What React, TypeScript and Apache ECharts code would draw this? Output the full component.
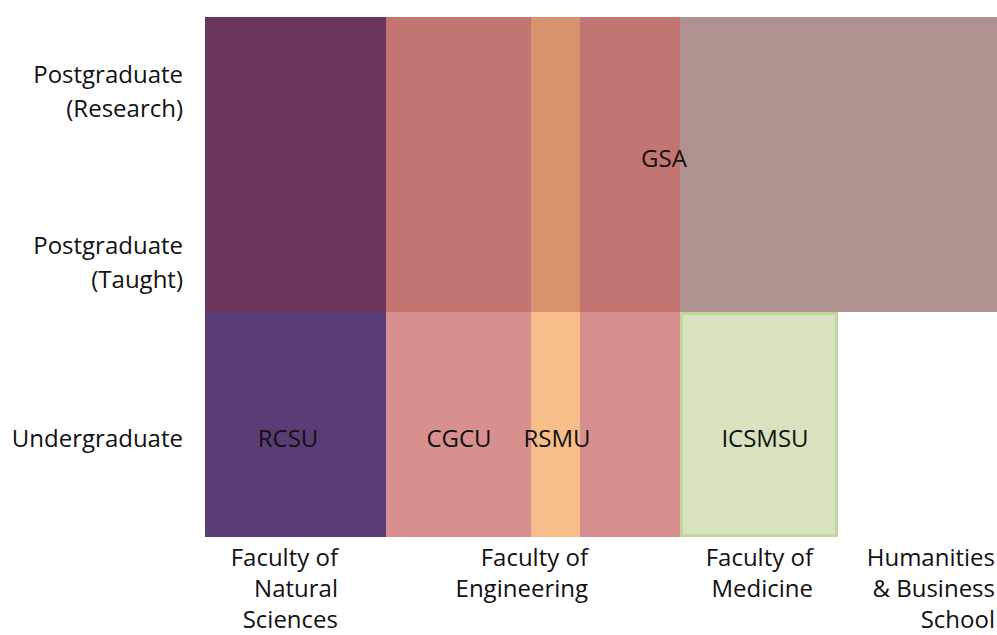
import React, { useEffect, useRef } from "react";
import * as echarts from "echarts";

// Axis labels (diagram units: x 0..792 across the faculties, y 0..520 bottom to top)
const facultyLabels = [
  "Faculty of\nNatural\nSciences",
  "Faculty of\nEngineering",
  "Faculty of\nMedicine",
  "Humanities\n& Business\nSchool",
];
const facultyLabelAt = [133, 383, 608, 790];

const levelLabels = ["Undergraduate", "Postgraduate\n(Taught)", "Postgraduate\n(Research)"];
const levelLabelAt = [100, 276, 447];

// Organisations (drawn in this order)
const orgNames = ["GSA", "RCSU", "CGCU", "RSMU", "ICSMSU"];
const orgX0 = [0, 0, 181, 326, 475];
const orgX1 = [792, 181, 475, 375, 633];
const orgY0 = [225, 0, 0, 0, 0];
const orgY1 = [520, 520, 520, 520, 225];
const orgLabelX = [459, 83, 254, 352, 560];
const orgLabelY = [380, 100, 100, 100, 100];

// Styles
const baseColor: Record<string, string> = {
  GSA: "#AF9190",
  RCSU: "#593D77",
  CGCU: "#D88F90",
  RSMU: "#F8BE8A",
  ICSMSU: "#D7E3BE",
};
const inGsaColor: Record<string, string> = {
  RCSU: "#6A365B",
  CGCU: "#C37571",
  RSMU: "#D9926D",
};
const borderColor: Record<string, string> = { ICSMSU: "#C2D69B" };

const FONT = "'Open Sans', 'Noto Sans', sans-serif";
const TEXT = "#111111";
const FS = 24;

export default function App() {
  const ref = useRef<HTMLDivElement>(null);
  useEffect(() => {
    if (!ref.current) return;
    const chart = echarts.init(ref.current, undefined, { renderer: "svg" });
    const data = orgNames.map((n, i) => [orgX0[i], orgX1[i], orgY0[i], orgY1[i], orgLabelX[i], orgLabelY[i], i]);
    const gsaY0 = orgY0[0];

    const pick = (arr: number[], labels: string[], v: number) => {
      const k = arr.findIndex((a) => Math.abs(a - v) < 0.5);
      return k >= 0 ? labels[k] : "";
    };

    chart.setOption({
      animation: false,
      grid: { left: 205, top: 17, width: 792, height: 520, outerBoundsMode: "none", containLabel: false },
      xAxis: {
        type: "value",
        min: 0,
        max: 792,
        splitLine: { show: false },
        axisLine: { show: false },
        axisTick: { show: false },
        axisLabel: {
          customValues: facultyLabelAt,
          formatter: (v: number) => pick(facultyLabelAt, facultyLabels, v),
          align: "right",
          verticalAlign: "top",
          margin: 4,
          fontSize: FS,
          lineHeight: 31,
          fontFamily: FONT,
          color: TEXT,
          hideOverlap: false,
        },
      },
      yAxis: {
        type: "value",
        min: 0,
        max: 520,
        splitLine: { show: false },
        axisLine: { show: false },
        axisTick: { show: false },
        axisLabel: {
          customValues: levelLabelAt,
          formatter: (v: number) => pick(levelLabelAt, levelLabels, v),
          align: "right",
          verticalAlign: "middle",
          margin: 22,
          fontSize: FS,
          lineHeight: 34,
          fontFamily: FONT,
          color: TEXT,
          hideOverlap: false,
        },
      },
      series: [
        {
          type: "custom",
          encode: { x: [0, 1, 4], y: [2, 3, 5] },
          data,
          renderItem: (params: any, api: any) => {
            const x0 = api.value(0), x1 = api.value(1), y0 = api.value(2), y1 = api.value(3);
            const idx = api.value(6);
            const name = orgNames[idx];
            const children: any[] = [];
            const rectOf = (a: number, b: number, c: number, d: number) => {
              const p0 = api.coord([a, d]);
              const p1 = api.coord([b, c]);
              return { x: p0[0], y: p0[1], width: p1[0] - p0[0], height: p1[1] - p0[1] };
            };
            const inset = borderColor[name] ? 1.5 : 0;
            const full = rectOf(x0, x1, y0, y1);
            if (name !== "GSA" && y1 > gsaY0 && inGsaColor[name]) {
              const low = rectOf(x0, x1, y0, gsaY0);
              const up = rectOf(x0, x1, gsaY0, y1);
              children.push({ type: "rect", shape: low, style: { fill: baseColor[name] } });
              children.push({ type: "rect", shape: up, style: { fill: inGsaColor[name] } });
            } else {
              children.push({
                type: "rect",
                shape: {
                  x: full.x + inset,
                  y: full.y + inset,
                  width: full.width - 2 * inset,
                  height: full.height - 2 * inset,
                },
                style: borderColor[name]
                  ? { fill: baseColor[name], stroke: borderColor[name], lineWidth: 3 }
                  : { fill: baseColor[name] },
              });
            }
            const lp = api.coord([api.value(4), api.value(5)]);
            children.push({
              type: "text",
              x: lp[0],
              y: lp[1],
              style: {
                text: name,
                fill: TEXT,
                fontSize: FS,
                fontFamily: FONT,
                align: "center",
                verticalAlign: "middle",
              },
              z2: 10,
            });
            return { type: "group", children };
          },
        },
      ],
    });
    return () => chart.dispose();
  }, []);
  return (
    <div
      ref={ref}
      style={{ position: "fixed", left: 0, top: 0, width: 997, height: 635, background: "#ffffff" }}
    />
  );
}
